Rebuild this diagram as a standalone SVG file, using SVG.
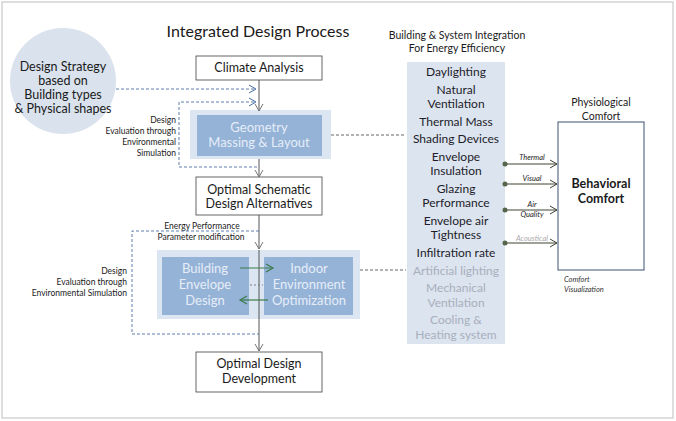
<svg xmlns="http://www.w3.org/2000/svg" width="676" height="421" viewBox="0 0 676 421">
<defs>
<style>
text{font-family:Lato,"Open Sans","Liberation Sans",sans-serif;}
.box{fill:#fff;stroke:#404040;stroke-width:0.8;}
.t12{font-size:12.5px;fill:#1a1a1a;text-anchor:middle;}
.lbl{font-size:8.5px;fill:#1a1a1a;text-anchor:end;}
.inner{font-size:13px;fill:#e6edf7;text-anchor:middle;}
.col{font-size:12px;fill:#1c1c2a;text-anchor:middle;}
.colg{font-size:12px;fill:#a8afbd;text-anchor:middle;}
.it{font-size:7.5px;font-style:italic;fill:#222;text-anchor:middle;}
.dash{fill:none;stroke:#4a6fa5;stroke-width:0.9;stroke-dasharray:3,2;}
.solid{fill:none;stroke:#555;stroke-width:1;}
.grn{fill:none;stroke:#3d7a4a;stroke-width:1.2;}
.olv{fill:none;stroke:#3c4433;stroke-width:1;}
</style>
<marker id="ag" markerWidth="10" markerHeight="10" refX="8" refY="5" orient="auto" markerUnits="userSpaceOnUse"><path d="M1,1 L8,5 L1,9" fill="none" stroke="#777" stroke-width="1"/></marker>
<marker id="ab" markerWidth="10" markerHeight="10" refX="8" refY="5" orient="auto" markerUnits="userSpaceOnUse"><path d="M1,1 L8,5 L1,9" fill="none" stroke="#4a6fa5" stroke-width="1"/></marker>
<marker id="agr" markerWidth="10" markerHeight="10" refX="8" refY="5" orient="auto" markerUnits="userSpaceOnUse"><path d="M1,1 L8,5 L1,9" fill="none" stroke="#3d7a4a" stroke-width="1.2"/></marker>
<marker id="ao" markerWidth="10" markerHeight="10" refX="8" refY="5" orient="auto" markerUnits="userSpaceOnUse"><path d="M1,1 L8,5 L1,9" fill="none" stroke="#3c4433" stroke-width="1"/></marker>
<marker id="dot" markerWidth="6" markerHeight="6" refX="3" refY="3" markerUnits="userSpaceOnUse"><circle cx="3" cy="3" r="2.5" fill="#56644c"/></marker>
</defs>
<rect x="2" y="2" width="671" height="416" fill="#fff" stroke="#d4d4d4" stroke-width="1.5"/>

<text x="258" y="37" style="font-size:16px;fill:#1a1a1a;text-anchor:middle;">Integrated Design Process</text>

<g id="strategy">
<circle cx="63" cy="81" r="53" fill="#d9e2ed"/>
<text class="t12" x="63" y="71">Design Strategy</text>
<text class="t12" x="63" y="85">based on</text>
<text class="t12" x="63" y="99">Building types</text>
<text class="t12" x="63" y="113">&amp; Physical shapes</text>
</g>

<g id="climate">
<rect class="box" x="196" y="56" width="126" height="24"/>
<text class="t12" x="259" y="72">Climate Analysis</text>
</g>

<g id="geometry">
<rect x="190" y="110" width="141" height="49" fill="#dce6f2"/>
<rect x="197" y="115" width="125" height="41" fill="#95b3d7"/>
<text class="inner" x="259" y="132">Geometry</text>
<text class="inner" x="259" y="147">Massing &amp; Layout</text>
</g>

<g id="schematic">
<rect class="box" x="196" y="177" width="126" height="38"/>
<text class="t12" x="259" y="194">Optimal Schematic</text>
<text class="t12" x="259" y="208">Design Alternatives</text>
</g>

<g id="envelope-group">
<rect x="157" y="250" width="203" height="69" fill="#dce6f2"/>
<rect x="162" y="257" width="87" height="58" fill="#95b3d7"/>
<rect x="264" y="257" width="89" height="58" fill="#95b3d7"/>
</g>
<g id="envelope">
<text class="inner" x="205" y="273">Building</text>
<text class="inner" x="205" y="289">Envelope</text>
<text class="inner" x="205" y="305">Design</text>
</g>
<g id="indoor">
<text class="inner" x="309" y="273">Indoor</text>
<text class="inner" x="309" y="289">Environment</text>
<text class="inner" x="309" y="305">Optimization</text>
</g>

<g id="development">
<rect class="box" x="196" y="352" width="126" height="40"/>
<text class="t12" x="259" y="368">Optimal Design</text>
<text class="t12" x="259" y="383">Development</text>
</g>

<g id="integration">
<text x="457" y="39" style="font-size:10.5px;fill:#1a1a1a;text-anchor:middle;">Building &amp; System Integration</text>
<text x="457" y="52" style="font-size:10.5px;fill:#1a1a1a;text-anchor:middle;">For Energy Efficiency</text>
<rect x="407" y="62" width="98" height="282" fill="#dce4ef"/>
<text class="col" x="456" y="76">Daylighting</text>
<text class="col" x="456" y="94">Natural</text>
<text class="col" x="456" y="108">Ventilation</text>
<text class="col" x="456" y="126">Thermal Mass</text>
<text class="col" x="456" y="143">Shading Devices</text>
<text class="col" x="456" y="161">Envelope</text>
<text class="col" x="456" y="175">Insulation</text>
<text class="col" x="456" y="193">Glazing</text>
<text class="col" x="456" y="207">Performance</text>
<text class="col" x="456" y="225">Envelope air</text>
<text class="col" x="456" y="239">Tightness</text>
<text class="col" x="456" y="257">Infiltration rate</text>
<text class="colg" x="456" y="275">Artificial lighting</text>
<text class="colg" x="456" y="292">Mechanical</text>
<text class="colg" x="456" y="307">Ventilation</text>
<text class="colg" x="456" y="324">Cooling &amp;</text>
<text class="colg" x="456" y="339">Heating system</text>
</g>

<g id="comfort">
<text x="601" y="106" style="font-size:10.5px;fill:#1a1a1a;text-anchor:middle;">Physiological</text>
<text x="601" y="120" style="font-size:10.5px;fill:#1a1a1a;text-anchor:middle;">Comfort</text>
<rect x="558" y="122" width="86" height="148" fill="#fff" stroke="#3a5070" stroke-width="1"/>
<text x="601" y="188" style="font-size:12.5px;font-weight:bold;fill:#1a1a1a;text-anchor:middle;">Behavioral</text>
<text x="601" y="203" style="font-size:12.5px;font-weight:bold;fill:#1a1a1a;text-anchor:middle;">Comfort</text>
<text x="564" y="282" style="font-size:7.5px;font-style:italic;fill:#333;">Comfort</text>
<text x="564" y="292" style="font-size:7.5px;font-style:italic;fill:#333;">Visualization</text>
</g>

<g id="labels">
<text class="lbl" x="176" y="123">Design</text>
<text class="lbl" x="176" y="134">Evaluation  through</text>
<text class="lbl" x="176" y="145">Environmental</text>
<text class="lbl" x="176" y="156">Simulation</text>
<text x="202" y="229" style="font-size:8.5px;fill:#1a1a1a;text-anchor:middle;">Energy  Performance</text>
<text x="201" y="240" style="font-size:8.5px;fill:#1a1a1a;text-anchor:middle;">Parameter   modification</text>
<text class="lbl" x="127" y="274">Design</text>
<text class="lbl" x="127" y="285">Evaluation  through</text>
<text class="lbl" x="127" y="296">Environmental  Simulation</text>
<text class="it" x="532" y="160">Thermal</text>
<text class="it" x="532" y="181">Visual</text>
<text class="it" x="532" y="207">Air</text>
<text class="it" x="532" y="217">Quality</text>
<text class="it" x="532" y="241" style="fill:#aaa;">Acoustical</text>
</g>

<g id="connectors">
<path class="dash" d="M116,89 H256" marker-end="url(#ab)"/>
<path class="dash" d="M257,167 H179 V102 H256" marker-end="url(#ab)"/>
<path class="solid" d="M259,80 V111" marker-end="url(#ag)"/>
<path class="solid" d="M259,159 V177" marker-end="url(#ag)"/>
<path class="solid" d="M259,215 V249" marker-end="url(#ag)"/>
<path class="solid" d="M259,250 V351" marker-end="url(#ag)"/>
<path class="dash" d="M259,231 H132 V334 H259"/>
<path d="M331,135 H405" fill="none" stroke="#555" stroke-width="0.9" stroke-dasharray="3,2"/>
<path d="M360,270 H406" fill="none" stroke="#555" stroke-width="0.9" stroke-dasharray="3,2"/>
<path d="M250,285 H263" fill="none" stroke="#777" stroke-width="0.9" stroke-dasharray="2,2"/>
<path class="grn" d="M240,268 H273" marker-end="url(#agr)"/>
<path class="grn" d="M268,300 H240" marker-end="url(#agr)"/>
<path class="olv" d="M505,164 H557" marker-start="url(#dot)" marker-end="url(#ao)"/>
<path class="olv" d="M505,184 H557" marker-start="url(#dot)" marker-end="url(#ao)"/>
<path class="olv" d="M505,210 H557" marker-start="url(#dot)" marker-end="url(#ao)"/>
<path class="olv" d="M505,243 H557" marker-start="url(#dot)" marker-end="url(#ao)"/>
</g>
</svg>
